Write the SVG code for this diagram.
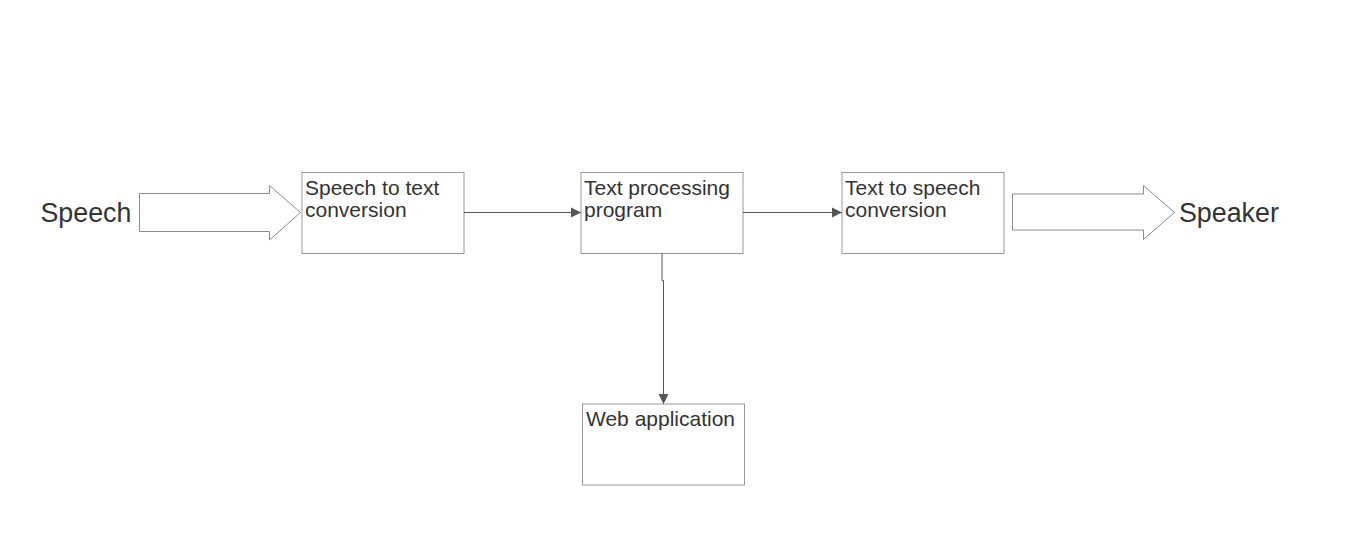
<svg xmlns="http://www.w3.org/2000/svg" width="1353" height="535" viewBox="0 0 1353 535">
<style>
.box{fill:#fff;stroke:#999;stroke-width:1}
.t{font-family:"Liberation Sans",Arial,sans-serif;font-size:21px;fill:#333}
.big{font-family:"Liberation Sans",Arial,sans-serif;font-size:26.8px;fill:#333}
.blk{fill:#fff;stroke:#8c8c8c;stroke-width:1}
.con{fill:none;stroke:#555;stroke-width:1}
</style>
<defs>
<marker id="ah" markerWidth="12" markerHeight="12" refX="10" refY="5.5" orient="auto" markerUnits="userSpaceOnUse">
<path d="M0,0.5 L10,5.5 L0,10.5 Z" fill="#555"/>
</marker>
</defs>
<rect width="1353" height="535" fill="#fff"/>
<g id="speech"><text class="big" x="40.5" y="221.7">Speech</text></g>
<g id="arrow-in"><path class="blk" d="M139.5,193.5 L269.5,193.5 L269.5,185.5 L300.5,212.5 L269.5,240 L269.5,231.5 L139.5,231.5 Z"/></g>
<g id="stt"><rect class="box" x="302" y="172.5" width="162" height="81"/><text class="t" x="305" y="194.5">Speech to text</text><text class="t" x="305" y="216.7">conversion</text></g>
<g id="tpp"><rect class="box" x="581" y="172.5" width="162" height="81"/><text class="t" x="584" y="194.5">Text processing</text><text class="t" x="584" y="216.7">program</text></g>
<g id="tts"><rect class="box" x="842" y="172.5" width="162" height="81"/><text class="t" x="845" y="194.5">Text to speech</text><text class="t" x="845" y="216.7">conversion</text></g>
<g id="web"><rect class="box" x="582.5" y="404" width="162" height="81"/><text class="t" x="586" y="425.7">Web application</text></g>
<g id="arrow-out"><path class="blk" d="M1012.5,194 L1143.5,194 L1143.5,185.5 L1174.5,212.5 L1143.5,239.5 L1143.5,230 L1012.5,230 Z"/></g>
<g id="speaker"><text class="big" x="1179" y="221.7">Speaker</text></g>
<g id="connectors">
<path class="con" d="M464,212.5 L581,212.5" marker-end="url(#ah)"/>
<path class="con" d="M743,212.5 L842,212.5" marker-end="url(#ah)"/>
<path class="con" d="M662,253.5 L662,280.5 L663.5,280.5 L663.5,404" marker-end="url(#ah)"/>
</g>
</svg>
